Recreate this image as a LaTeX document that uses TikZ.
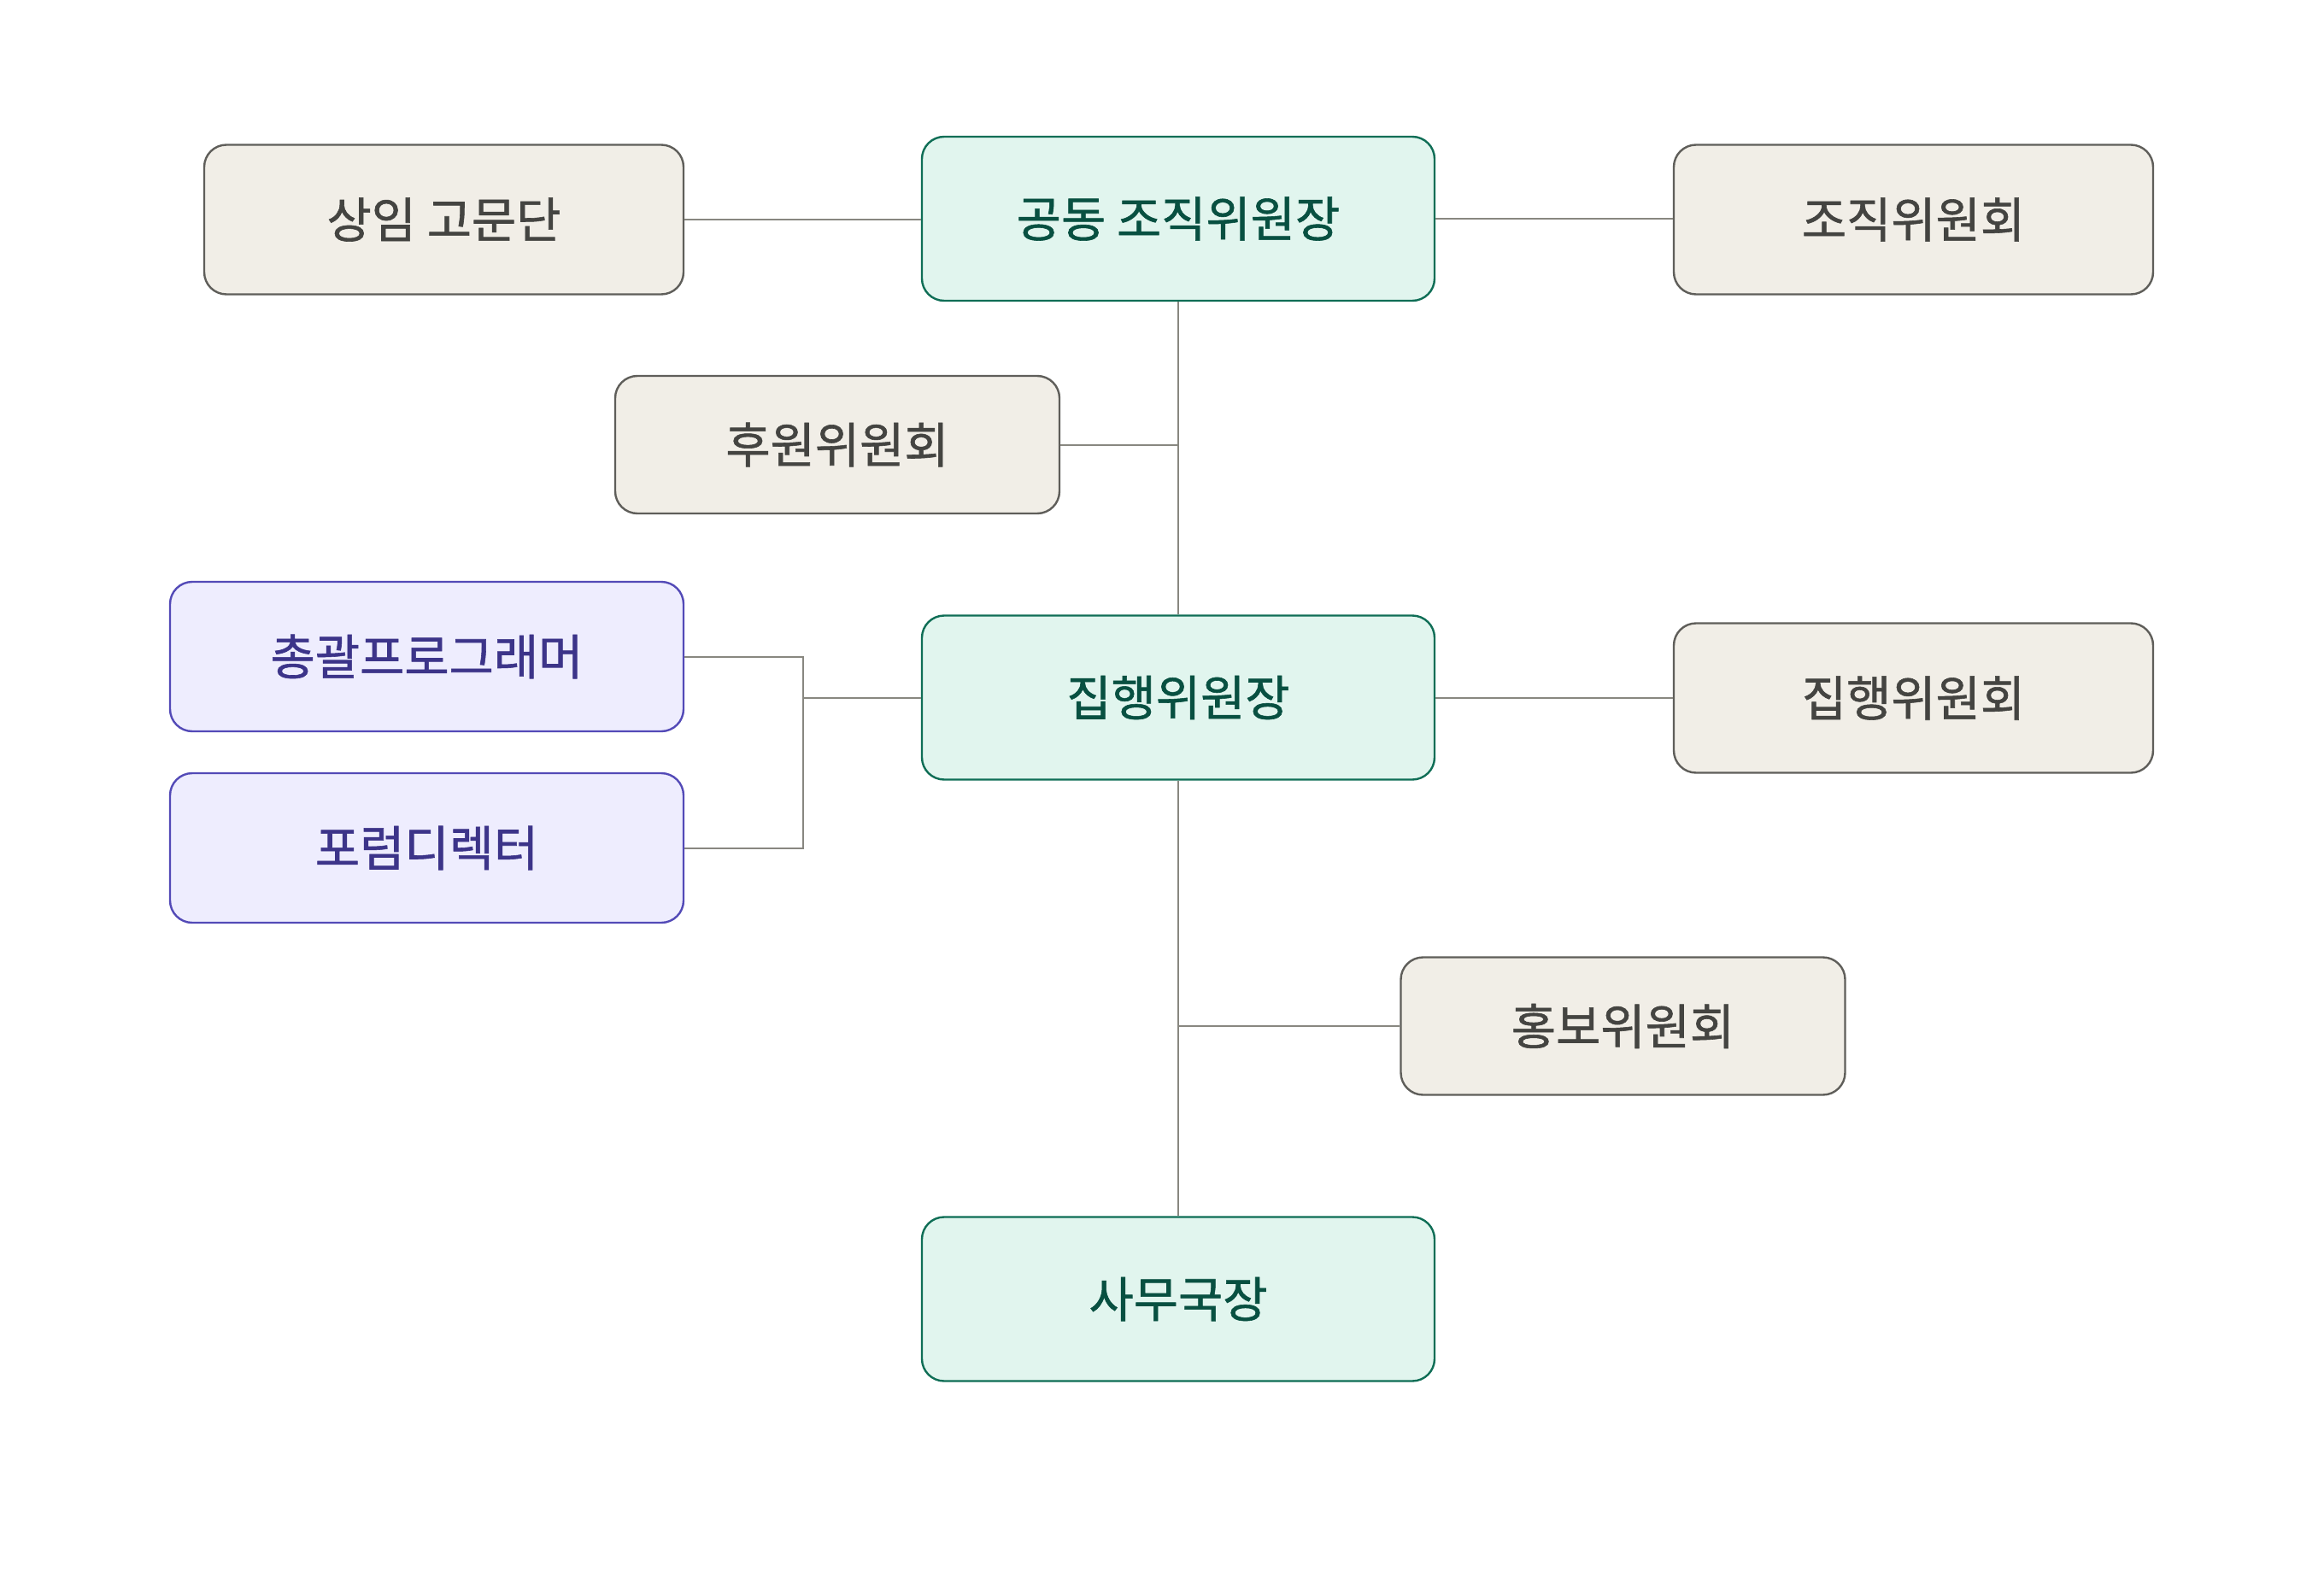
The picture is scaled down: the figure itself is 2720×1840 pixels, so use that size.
\documentclass[tikz,border=0pt]{standalone}
\usepackage{fontspec}
\newfontfamily\kr[FakeBold=1.0]{Noto Sans CJK KR}
\definecolor{bfill}{HTML}{F1EEE7}
\definecolor{bdraw}{HTML}{5F5E5A}
\definecolor{btext}{HTML}{444441}
\definecolor{gfill}{HTML}{E1F5EE}
\definecolor{gdraw}{HTML}{0F6E56}
\definecolor{gtext}{HTML}{085041}
\definecolor{pfill}{HTML}{EEEDFE}
\definecolor{pdraw}{HTML}{534AB7}
\definecolor{ptext}{HTML}{3C3489}
\definecolor{lcol}{HTML}{888780}
\begin{document}
\begin{tikzpicture}[x=0.25pt,y=-0.25pt,
  box/.style={rounded corners=6.5pt, line width=0.6pt, inner sep=0pt, align=center,
    font=\kr\fontsize{14.2pt}{17pt}\selectfont},
  beige/.style={box, fill=bfill, draw=bdraw, text=btext},
  green/.style={box, fill=gfill, draw=gdraw, text=gtext, minimum width=150pt, minimum height=48pt},
  purple/.style={box, fill=pfill, draw=pdraw, text=ptext, minimum width=150.25pt, minimum height=43.75pt},
  wide/.style={minimum width=140.25pt, minimum height=43.75pt},
  narrow/.style={minimum width=130pt, minimum height=40.25pt},
  conn/.style={draw=lcol, line width=0.5pt}]
\useasboundingbox (0,0) rectangle (2720,1840);
\fill[white] (0,0) rectangle (2720,1840);
\node[beige, wide] (sangim) at (519.5,257) {상임 고문단};
\node[green] (gongdong) at (1379,256) {공동 조직위원장};
\node[beige, wide] (jojik) at (2239.5,257) {조직위원회};
\node[beige, narrow] (huwon) at (980,520.5) {후원위원회};
\node[purple] (chong) at (499.5,768.5) {총괄프로그래머};
\node[green] (jip) at (1379,816.5) {집행위원장};
\node[beige, wide] (jiphoe) at (2239.5,817) {집행위원회};
\node[purple] (forum) at (499.5,992.5) {포럼디렉터};
\node[beige, narrow] (hongbo) at (1899.5,1201) {홍보위원회};
\node[green] (samu) at (1379,1520.5) {사무국장};
\coordinate (br) at (940,816.5);
\draw[conn] (sangim.east) -- (sangim.east -| gongdong.west);
\draw[conn] (gongdong.east) -- (gongdong.east -| jojik.west);
\draw[conn] (gongdong.south) -- (jip.north);
\draw[conn] (huwon.east) -- (huwon.east -| gongdong.south);
\draw[conn] (chong.east) -| (br) -- (jip.west);
\draw[conn] (forum.east) -| (br) -- (jip.west);
\draw[conn] (jip.east) -- (jip.east -| jiphoe.west);
\draw[conn] (jip.south) -- (samu.north);
\draw[conn] (hongbo.west) -- (hongbo.west -| jip.south);
\end{tikzpicture}
\end{document}
